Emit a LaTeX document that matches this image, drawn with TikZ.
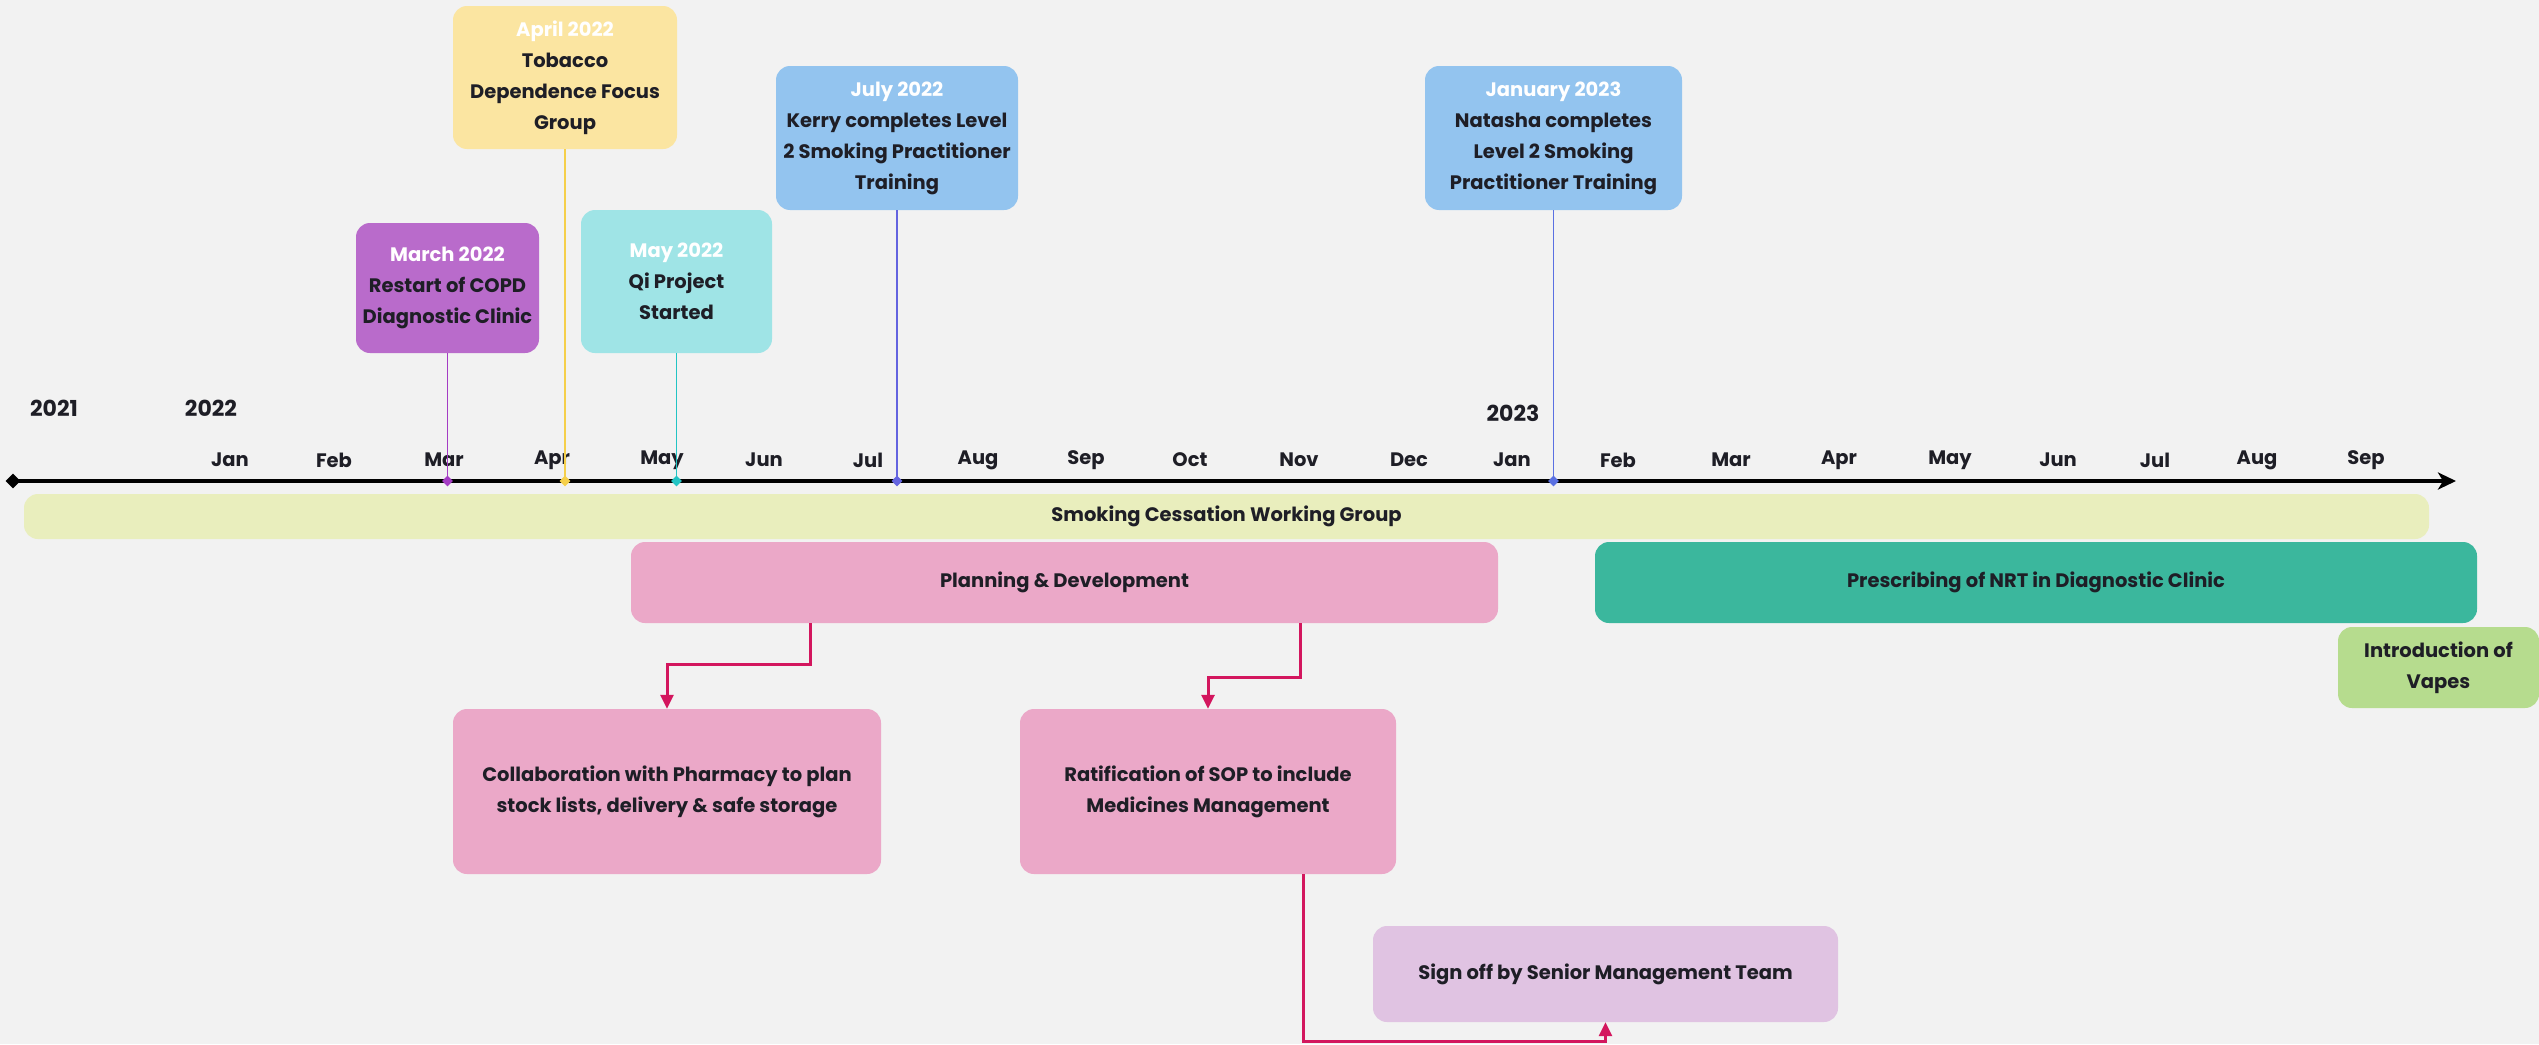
\documentclass[tikz,border=0pt]{standalone}
\usepackage{fontspec}
\setmainfont{Poppins}
\usetikzlibrary{arrows.meta,calc,shapes.geometric}
\definecolor{bg}{HTML}{F2F2F2}
\definecolor{txt}{HTML}{1E1E26}
\definecolor{barc}{HTML}{E9EEBD}
\definecolor{pinkc}{HTML}{EBA8C8}
\definecolor{tealc}{HTML}{3BB79D}
\definecolor{vapec}{HTML}{B6DC8E}
\definecolor{signc}{HTML}{E0C3E2}
\definecolor{marchc}{HTML}{B96BCB}
\definecolor{aprilc}{HTML}{FBE5A1}
\definecolor{mayc}{HTML}{9FE4E6}
\definecolor{bluec}{HTML}{93C4EF}
\definecolor{arrc}{HTML}{D3165E}
\definecolor{lmar}{HTML}{A43CC4}
\definecolor{lapr}{HTML}{F5CF4A}
\definecolor{lmay}{HTML}{22C4C4}
\definecolor{ljul}{HTML}{6464E0}
\definecolor{ljan}{HTML}{5A70E2}
\newcommand\myfs{\fontsize{19.5}{31}\selectfont\bfseries}
\newcommand\myyr{\fontsize{22}{26}\selectfont\bfseries}
\begin{document}
\begin{tikzpicture}[x=1pt,y=-1pt,
  box/.style={rounded corners=14pt, inner sep=0pt, align=center, font=\myfs, text=txt},
  lbl/.style={inner sep=0pt, font=\myfs, text=txt},
  yr/.style={inner sep=0pt, font=\myyr, text=txt},
  arr/.style={draw=arrc, line width=3pt, -{Triangle[length=14pt,width=13pt]}},
  evline/.style={line width=1.5pt},
  mk/.style={diamond, inner sep=0pt, minimum size=11pt},
  wh/.style={text=white}]
\fill[bg] (0,0) rectangle (2539,1044);
\useasboundingbox (0,0) rectangle (2539,1044);

% bars
\node[box, fill=barc, minimum width=2405pt, minimum height=45pt] (wg) at (1226.5,516.5) {Smoking Cessation Working Group};
\node[box, fill=pinkc, minimum width=867pt, minimum height=81pt] (plan) at (1064.5,582.5) {Planning \& Development};
\node[box, fill=tealc, minimum width=882pt, minimum height=81pt] (nrt) at (2036,582.5) {Prescribing of NRT in Diagnostic Clinic};
\node[box, fill=vapec, minimum width=201pt, minimum height=81pt] (vape) at (2438.5,667.5) {Introduction of\\Vapes};
\node[box, fill=pinkc, minimum width=428pt, minimum height=165pt] (collab) at (667,791.5) {Collaboration with Pharmacy to plan\\stock lists, delivery \& safe storage};
\node[box, fill=pinkc, minimum width=376pt, minimum height=165pt] (ratif) at (1208,791.5) {Ratification of SOP to include\\Medicines Management};
\node[box, fill=signc, minimum width=465pt, minimum height=96pt] (signoff) at (1605.5,974) {Sign off by Senior Management Team};

% axis
\coordinate (axL) at (13,481);
\coordinate (axR) at (2456,481);
\draw[line width=4pt, -{Stealth[length=18pt,width=17pt,inset=5pt]}] (axL) -- (axR);
\node[mk, fill=black, minimum size=15pt] (axdot) at (axL) {};

% years
\node[yr] (y2021) at (54,408) {2021};
\node[yr] (y2022) at (211,408) {2022};
\node[yr] (y2023) at (1513,413) {2023};

% months
\foreach \n/\x/\t in {a/230/Jan,b/334/Feb,c/444/Mar,d/552/Apr,e/662/May,f/764/Jun,g/868/Jul,h/978/Aug,i/1086/Sep,j/1190/Oct,k/1299/Nov,l/1409/Dec,
  m/1512/Jan,n/1618/Feb,o/1731/Mar,p/1839/Apr,q/1950/May,r/2058/Jun,s/2155/Jul,t/2257/Aug,u/2366/Sep}
  \node[lbl] (mon\n) at (\x,460) {\t};

% events
\node[box, fill=marchc, minimum width=183pt, minimum height=130pt] (march) at (447.5,288) {{\color{white}March 2022}\\Restart of COPD\\Diagnostic Clinic};
\node[box, fill=aprilc, minimum width=224pt, minimum height=143pt] (april) at (565,77.5) {{\color{white}April 2022}\\Tobacco\\Dependence Focus\\Group};
\node[box, fill=mayc, minimum width=191pt, minimum height=143pt] (may) at (676.5,281.5) {{\color{white}May 2022}\\Qi Project\\Started};
\node[box, fill=bluec, minimum width=242pt, minimum height=144pt] (july) at (897,138) {{\color{white}July 2022}\\Kerry completes Level\\2 Smoking Practitioner\\Training};
\node[box, fill=bluec, minimum width=257pt, minimum height=144pt] (jan) at (1553.5,138) {{\color{white}January 2023}\\Natasha completes\\Level 2 Smoking\\Practitioner Training};

\node[mk, fill=lmar] (mkmar) at (march.south |- axL) {};
\node[mk, fill=lapr] (mkapr) at (april.south |- axL) {};
\node[mk, fill=lmay] (mkmay) at (may.south |- axL) {};
\node[mk, fill=ljul] (mkjul) at (july.south |- axL) {};
\node[mk, fill=ljan] (mkjan) at (jan.south |- axL) {};
\draw[evline, lmar] (march.south) -- (mkmar.center);
\draw[evline, lapr] (april.south) -- (mkapr.center);
\draw[evline, lmay] (may.south) -- (mkmay.center);
\draw[evline, ljul] (july.south) -- (mkjul.center);
\draw[evline, ljan] (jan.south) -- (mkjan.center);

% process arrows
\coordinate (p1) at (810,664);
\coordinate (p2) at (1300,677);
\coordinate (p3) at (1303,1041);
\draw[arr] (plan.south -| p1) -- (p1) -| (collab.north);
\draw[arr] (plan.south -| p2) -- (p2) -| (ratif.north);
\draw[arr] (ratif.south -| p3) -- (p3) -| (signoff.south);
\end{tikzpicture}
\end{document}
